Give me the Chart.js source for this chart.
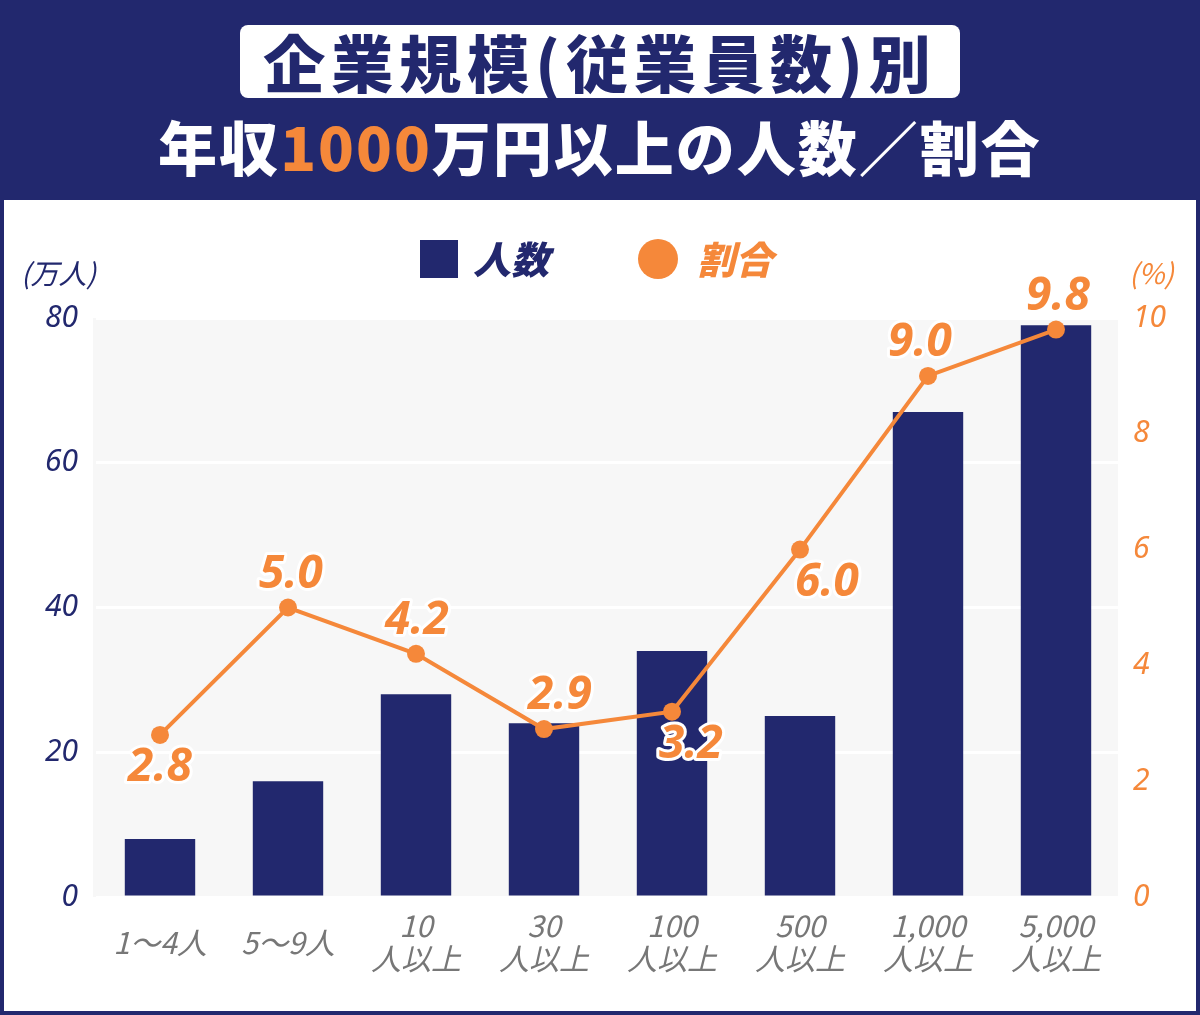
<!DOCTYPE html>
<html>
<head>
<meta charset="utf-8">
<script src="https://cdn.jsdelivr.net/npm/chart.js@4"></script>
<style>
  body { margin:0; width:1200px; height:1015px; background:#22286e; position:relative; overflow:hidden;
         font-family:"Noto Sans CJK JP","Noto Sans",sans-serif; }
  #titleBox { position:absolute; left:240px; top:25px; width:720px; height:73px; background:#fff; border-radius:8px;
              color:#22286e; font-weight:900; font-size:62px; line-height:73px; text-align:center; letter-spacing:6px; }
  #subTitle { position:absolute; left:0; top:108px; width:1200px; text-align:center; color:#fff; font-weight:900;
              font-size:59px; line-height:76px; letter-spacing:2px; }
  #subTitle .hl { color:#f5883a; }
  #panel { position:absolute; left:4px; top:200px; width:1192px; height:811px; background:#fff; }
  .lg { position:absolute; font-weight:900; font-style:italic; font-size:38px; line-height:40px; }
  .unit { position:absolute; font-style:italic; font-size:28px; line-height:30px; }
</style>
</head>
<body>
<div id="titleBox">企業規模(従業員数)別</div>
<div id="subTitle">年収<span class="hl">1000</span>万円以上の人数／割合</div>
<div id="panel">
  <canvas id="myChart" width="1192" height="811"></canvas>
  <div style="position:absolute;left:416px;top:40px;width:38px;height:38px;background:#22286e"></div>
  <div class="lg" style="left:469px;top:38px;color:#22286e">人数</div>
  <div style="position:absolute;left:634px;top:39px;width:40px;height:40px;border-radius:50%;background:#f5883a"></div>
  <div class="lg" style="left:693px;top:38px;color:#f5883a">割合</div>
  <div class="unit" style="left:17px;top:57px;color:#22286e">(万人)</div>
  <div class="unit" style="left:1125px;top:57px;color:#f5883a">(%)</div>
</div>
<script>
const categories = [['1〜4人'], ['5〜9人'], ['10', '人以上'], ['30', '人以上'], ['100', '人以上'], ['500', '人以上'], ['1,000', '人以上'], ['5,000', '人以上']];
const ninzu = [8, 16, 28, 24, 34, 25, 67, 79];
const wariai = [2.8, 5.0, 4.2, 2.9, 3.2, 6.0, 9.0, 9.8];
const wariaiLabelPos = ['below', 'above', 'above', 'above', 'below', 'below', 'above', 'above'];
const wariaiLabelShift = [0, 3, 1, 16, 19, 27, -8, 2];
const leftTicks = [0, 20, 40, 60, 80];
const rightTicks = [0, 2, 4, 6, 8, 10];

const navy = '#22286e';
const orange = '#f5883a';

// gray plot background
const plotBg = {
  id: 'plotBg',
  beforeDraw(chart) {
    const a = chart.chartArea, ctx = chart.ctx;
    ctx.save();
    ctx.fillStyle = '#f7f7f7';
    ctx.fillRect(a.left - 3, a.top, a.right - a.left + 1, a.bottom - a.top);
    ctx.restore();
  }
};

// value labels on the line
const lineLabels = {
  id: 'lineLabels',
  afterDatasetsDraw(chart) {
    const meta = chart.getDatasetMeta(1), ctx = chart.ctx;
    ctx.save();
    ctx.font = 'italic bold 46px "Noto Sans", sans-serif';
    ctx.textAlign = 'center';
    ctx.textBaseline = 'middle';
    ctx.lineJoin = 'round';
    meta.data.forEach((p, i) => {
      const txt = wariai[i].toFixed(1);
      const x = p.x + wariaiLabelShift[i];
      const y = wariaiLabelPos[i] === 'above' ? p.y - 33 : p.y + 33;
      ctx.strokeStyle = '#fff';
      ctx.lineWidth = 6;
      ctx.strokeText(txt, x, y);
      ctx.fillStyle = orange;
      ctx.fillText(txt, x, y);
    });
    ctx.restore();
  }
};

const data = {
  labels: categories,
  datasets: [
    {
      type: 'bar',
      label: '人数',
      data: ninzu,
      yAxisID: 'y',
      backgroundColor: navy,
      barPercentage: 0.55,
      categoryPercentage: 1,
      order: 1
    },
    {
      type: 'line',
      label: '割合',
      data: wariai,
      yAxisID: 'y2',
      borderColor: orange,
      backgroundColor: orange,
      borderWidth: 4,
      pointRadius: 9,
      pointBackgroundColor: orange,
      pointBorderWidth: 0,
      order: 0
    }
  ]
};

const config = {
  data: data,
  options: {
    responsive: false,
    animation: false,
    layout: { padding: { top: 118, left: 0, right: 0, bottom: 0 } },
    plugins: { legend: { display: false }, tooltip: { enabled: false } },
    scales: {
      x: {
        grid: { display: false, drawTicks: false },
        border: { display: false },
        ticks: {
          color: '#777777',
          font: { family: '"Noto Sans CJK JP", sans-serif', size: 30, style: 'italic', lineHeight: 1.1 },
          padding: 29,
          crossAlign: 'center',
          maxRotation: 0,
          autoSkip: false
        },
        afterFit(s) { s.height = 114; }
      },
      y: {
        position: 'left',
        min: 0, max: 80,
        afterBuildTicks(s) { s.ticks = leftTicks.map(v => ({ value: v })); },
        grid: { color: '#ffffff', lineWidth: 3, drawTicks: false },
        border: { display: false },
        ticks: {
          color: navy,
          font: { family: '"Noto Sans", sans-serif', size: 30, style: 'italic' },
          padding: 18
        },
        afterFit(s) { s.width = 92; }
      },
      y2: {
        position: 'right',
        min: 0, max: 10,
        afterBuildTicks(s) { s.ticks = rightTicks.map(v => ({ value: v })); },
        grid: { display: false, drawTicks: false },
        border: { display: false },
        ticks: {
          color: orange,
          font: { family: '"Noto Sans", sans-serif', size: 30, style: 'italic' },
          padding: 13
        },
        afterFit(s) { s.width = 76; }
      }
    }
  },
  plugins: [plotBg, lineLabels]
};

const myChart = new Chart(document.getElementById('myChart'), config);
</script>
</body>
</html>
